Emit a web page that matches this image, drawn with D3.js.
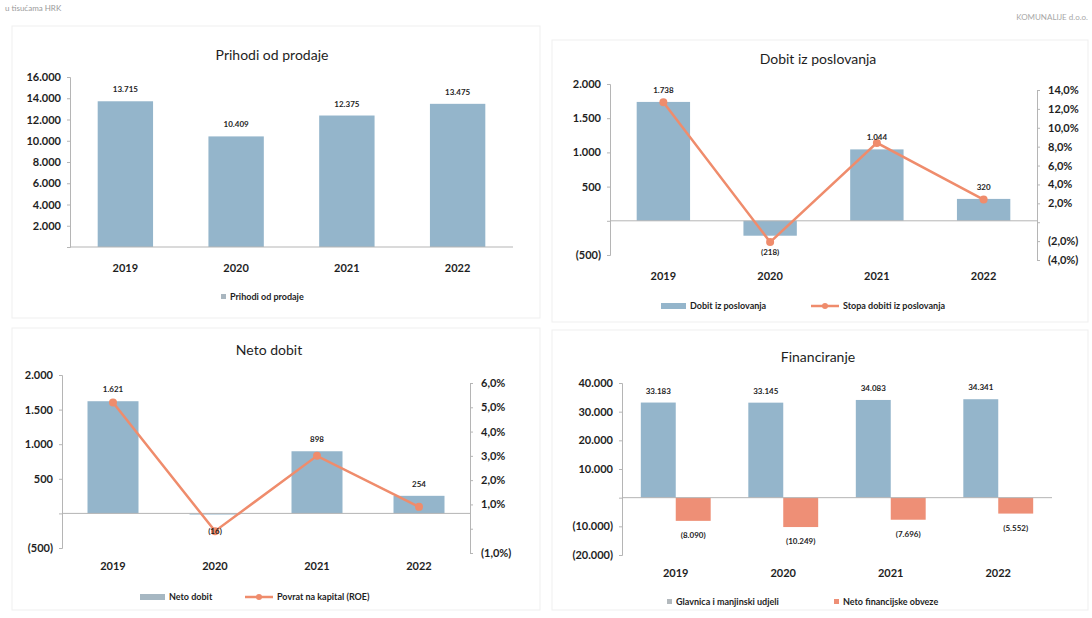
<!DOCTYPE html>
<html>
<head>
<meta charset="utf-8">
<script src="https://cdn.jsdelivr.net/npm/d3@7"></script>
<style>
body { margin: 0; background: #fff; }
svg text { font-family: Lato, "Open Sans", sans-serif; fill: #1e1e1e; }
</style>
</head>
<body>
<div id="chart"></div>
<script>
var w = 1092,
    h = 618;

// podaci (u tisućama HRK)
var years = ["2019", "2020", "2021", "2022"];
var prihodi = [13715, 10409, 12375, 13475];
var dobitPosl = [1738, -218, 1044, 320];
var stopaDobiti = [12.7, -2.1, 8.4, 2.4];
var netoDobit = [1621, -16, 898, 254];
var roe = [5.2, -0.1, 3.0, 0.9];
var glavnica = [33183, 33145, 34083, 34341];
var netoObveze = [-8090, -10249, -7696, -5552];

var prihodiTicks = [0, 2000, 4000, 6000, 8000, 10000, 12000, 14000, 16000];
var dobitTicks = [-500, 0, 500, 1000, 1500, 2000];
var stopaTicks = [-4, -2, 0, 2, 4, 6, 8, 10, 12, 14];
var netoTicks = [-500, 0, 500, 1000, 1500, 2000];
var roeTicks = [-1, 0, 1, 2, 3, 4, 5, 6];
var finTicks = [-20000, -10000, 0, 10000, 20000, 30000, 40000];

var blue = "#94b5cb",
    orange = "#ef8c6c",
    salmon = "#ee8f76",
    axisGrey = "#b5b5b5";

var hr = d3.formatLocale({decimal: ",", thousands: ".", grouping: [3], currency: ["", ""]});
var f0 = hr.format(",.0f"),
    f1 = hr.format(",.1f");
function num(v) { return v === 0 ? "" : (v < 0 ? "(" + f0(-v) + ")" : f0(v)); }
function pct(v) { return v === 0 ? "" : (v < 0 ? "(" + f1(-v) + "%)" : f1(v) + "%"); }

var svg = d3.select("#chart")
    .append("svg")
    .attr("width", w)
    .attr("height", h);

// header
svg.append("text").attr("x", 5).attr("y", 11).text("u tisućama HRK")
    .style("font-size", "8px").style("fill", "#9a9a9a");
svg.append("text").attr("x", 1088).attr("y", 20).attr("text-anchor", "end").text("KOMUNALIJE d.o.o.")
    .style("font-size", "8px").style("fill", "#a8a8a8");

// faint panel frames
[[12, 26, 528, 292], [552, 40, 536, 282], [12, 328, 528, 282], [552, 330, 536, 280]].forEach(function(r) {
    svg.append("rect").attr("x", r[0]).attr("y", r[1]).attr("width", r[2]).attr("height", r[3])
        .attr("fill", "none").attr("stroke", "#efefef");
});

function title(x, y, t) {
    svg.append("text").attr("x", x).attr("y", y).attr("text-anchor", "middle")
        .text(t).style("font-size", "14px");
}

function leftAxis(scale, ticks, x, fmt) {
    var g = svg.append("g").attr("transform", "translate(" + x + ",0)")
        .call(d3.axisLeft(scale).tickValues(ticks).tickFormat(fmt).tickSize(3).tickPadding(6));
    g.select(".domain").attr("stroke", axisGrey);
    g.selectAll(".tick line").attr("stroke", axisGrey);
    g.selectAll("text").style("font-size", "11px").style("font-weight", "bold");
    return g;
}

function rightAxis(scale, ticks, x, fmt) {
    var g = svg.append("g").attr("transform", "translate(" + x + ",0)")
        .call(d3.axisRight(scale).tickValues(ticks).tickFormat(fmt).tickSize(3).tickPadding(8));
    g.select(".domain").attr("stroke", axisGrey);
    g.selectAll(".tick line").attr("stroke", axisGrey);
    g.selectAll("text").style("font-size", "11px").style("font-weight", "bold");
    return g;
}

function yearLabels(x, y) {
    svg.selectAll(null).data(years).enter().append("text")
        .attr("x", function(d) { return x(d) + x.bandwidth() / 2; })
        .attr("y", y)
        .attr("text-anchor", "middle")
        .text(function(d) { return d; })
        .style("font-size", "11px").style("font-weight", "bold");
}

function baseline(x0, x1, y) {
    svg.append("line").attr("x1", x0).attr("x2", x1).attr("y1", y).attr("y2", y)
        .attr("stroke", axisGrey);
}

function dataLabel(x, y, t) {
    svg.append("text").attr("x", x).attr("y", y).attr("text-anchor", "middle")
        .text(t).style("font-size", "8px").style("font-weight", "bold");
}

function barLegend(x, y, label, color) {
    svg.append("rect").attr("x", x).attr("y", y - 6).attr("width", 25).attr("height", 6).attr("fill", color);
    svg.append("text").attr("x", x + 29).attr("y", y).text(label)
        .style("font-size", "9px").style("font-weight", "bold");
}

function lineLegend(x, y, label) {
    svg.append("line").attr("x1", x).attr("x2", x + 28).attr("y1", y - 3).attr("y2", y - 3)
        .attr("stroke", orange).attr("stroke-width", 2.5);
    svg.append("circle").attr("cx", x + 14).attr("cy", y - 3).attr("r", 3).attr("fill", orange);
    svg.append("text").attr("x", x + 32).attr("y", y).text(label)
        .style("font-size", "9px").style("font-weight", "bold");
}

function squareLegend(x, y, label, color) {
    svg.append("rect").attr("x", x).attr("y", y - 6).attr("width", 5).attr("height", 5).attr("fill", color);
    svg.append("text").attr("x", x + 9).attr("y", y).text(label)
        .style("font-size", "9px").style("font-weight", "bold");
}

// ---------- Prihodi od prodaje ----------
var x1 = d3.scaleBand().domain(years).range([70, 513]).paddingInner(0.5).paddingOuter(0.25);
var y1 = d3.scaleLinear().domain([0, 16000]).range([247, 77]);
title(272, 60, "Prihodi od prodaje");
svg.selectAll(".bar1").data(prihodi).enter().append("rect")
    .attr("class", "bar1")
    .attr("x", function(d, i) { return x1(years[i]); })
    .attr("y", function(d) { return y1(d); })
    .attr("width", x1.bandwidth())
    .attr("height", function(d) { return y1(0) - y1(d); })
    .attr("fill", blue);
leftAxis(y1, prihodiTicks, 70, num);
baseline(70, 513, y1(0));
prihodi.forEach(function(d, i) { dataLabel(x1(years[i]) + x1.bandwidth() / 2, y1(d) - 9, num(d)); });
yearLabels(x1, 272);
squareLegend(221, 300, "Prihodi od prodaje", "#a9b6bf");

// ---------- Dobit iz poslovanja ----------
var x2 = d3.scaleBand().domain(years).range([610, 1037]).paddingInner(0.5).paddingOuter(0.25);
var y2 = d3.scaleLinear().domain([-500, 2000]).range([255, 84]);
var y2r = d3.scaleLinear().domain([-4, 14]).range([260, 90]);
title(818, 64, "Dobit iz poslovanja");
svg.selectAll(".bar2").data(dobitPosl).enter().append("rect")
    .attr("class", "bar2")
    .attr("x", function(d, i) { return x2(years[i]); })
    .attr("y", function(d) { return y2(Math.max(d, 0)); })
    .attr("width", x2.bandwidth())
    .attr("height", function(d) { return Math.abs(y2(0) - y2(d)); })
    .attr("fill", blue);
leftAxis(y2, dobitTicks, 610, num);
rightAxis(y2r, stopaTicks, 1037, pct);
baseline(610, 1037, y2(0));
var line2 = d3.line()
    .x(function(d, i) { return x2(years[i]) + x2.bandwidth() / 2; })
    .y(function(d) { return y2r(d); });
svg.append("path").datum(stopaDobiti).attr("d", line2)
    .attr("fill", "none").attr("stroke", orange).attr("stroke-width", 2.5);
svg.selectAll(".dot2").data(stopaDobiti).enter().append("circle")
    .attr("class", "dot2")
    .attr("cx", function(d, i) { return x2(years[i]) + x2.bandwidth() / 2; })
    .attr("cy", function(d) { return y2r(d); })
    .attr("r", 4).attr("fill", orange);
dobitPosl.forEach(function(d, i) {
    var cx = x2(years[i]) + x2.bandwidth() / 2;
    dataLabel(cx, d < 0 ? y2(d) + 19 : y2(d) - 9, num(d));
});
yearLabels(x2, 280);
barLegend(661, 309, "Dobit iz poslovanja", blue);
lineLegend(811, 309, "Stopa dobiti iz poslovanja");

// ---------- Neto dobit ----------
var x3 = d3.scaleBand().domain(years).range([62, 470]).paddingInner(0.5).paddingOuter(0.25);
var y3 = d3.scaleLinear().domain([-500, 2000]).range([548, 375]);
var y3r = d3.scaleLinear().domain([-1, 6]).range([553, 383]);
title(269, 355, "Neto dobit");
svg.selectAll(".bar3").data(netoDobit).enter().append("rect")
    .attr("class", "bar3")
    .attr("x", function(d, i) { return x3(years[i]); })
    .attr("y", function(d) { return y3(Math.max(d, 0)); })
    .attr("width", x3.bandwidth())
    .attr("height", function(d) { return Math.abs(y3(0) - y3(d)); })
    .attr("fill", blue);
leftAxis(y3, netoTicks, 62, num);
rightAxis(y3r, roeTicks, 470, pct);
baseline(62, 470, y3(0));
var line3 = d3.line()
    .x(function(d, i) { return x3(years[i]) + x3.bandwidth() / 2; })
    .y(function(d) { return y3r(d); });
svg.append("path").datum(roe).attr("d", line3)
    .attr("fill", "none").attr("stroke", orange).attr("stroke-width", 2.5);
svg.selectAll(".dot3").data(roe).enter().append("circle")
    .attr("class", "dot3")
    .attr("cx", function(d, i) { return x3(years[i]) + x3.bandwidth() / 2; })
    .attr("cy", function(d) { return y3r(d); })
    .attr("r", 4).attr("fill", orange);
netoDobit.forEach(function(d, i) {
    var cx = x3(years[i]) + x3.bandwidth() / 2;
    dataLabel(cx, d < 0 ? y3(d) + 19 : y3(d) - 9, num(d));
});
yearLabels(x3, 570);
barLegend(140, 600, "Neto dobit", "#a6b7c2");
lineLegend(245, 600, "Povrat na kapital (ROE)");

// ---------- Financiranje ----------
var x4 = d3.scaleBand().domain(years).range([622, 1052]).paddingInner(0.35).paddingOuter(0.175);
var x4s = d3.scaleBand().domain(["g", "n"]).range([0, x4.bandwidth()]);
var y4 = d3.scaleLinear().domain([-20000, 40000]).range([555, 383]);
title(818, 362, "Financiranje");
svg.selectAll(".bar4g").data(glavnica).enter().append("rect")
    .attr("class", "bar4g")
    .attr("x", function(d, i) { return x4(years[i]) + x4s("g"); })
    .attr("y", function(d) { return y4(d); })
    .attr("width", x4s.bandwidth())
    .attr("height", function(d) { return y4(0) - y4(d); })
    .attr("fill", blue);
svg.selectAll(".bar4n").data(netoObveze).enter().append("rect")
    .attr("class", "bar4n")
    .attr("x", function(d, i) { return x4(years[i]) + x4s("n"); })
    .attr("y", y4(0))
    .attr("width", x4s.bandwidth())
    .attr("height", function(d) { return y4(d) - y4(0); })
    .attr("fill", salmon);
leftAxis(y4, finTicks, 622, num);
baseline(622, 1052, y4(0));
glavnica.forEach(function(d, i) {
    dataLabel(x4(years[i]) + x4s("g") + x4s.bandwidth() / 2, y4(d) - 9, num(d));
});
netoObveze.forEach(function(d, i) {
    dataLabel(x4(years[i]) + x4s("n") + x4s.bandwidth() / 2, y4(d) + 17, num(d));
});
yearLabels(x4, 577);
squareLegend(667, 605, "Glavnica i manjinski udjeli", "#b3b9bd");
squareLegend(834, 605, "Neto financijske obveze", salmon);
</script>
</body>
</html>
